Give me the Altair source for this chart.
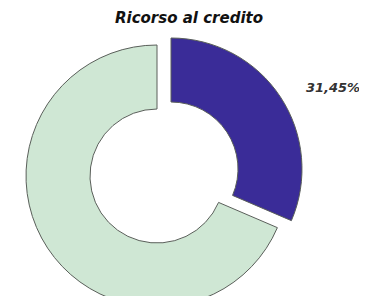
import altair as alt
import pandas as pd

categories = ["Ricorso al credito", "Altro"]
values = [31.45, 68.55]
colors = ["#3a2c98", "#cfe7d4"]
label_text = "31,45%"
title_text = "Ricorso al credito"

df = pd.DataFrame({"cat": categories, "val": values, "order": [0, 1]})

base = alt.Chart(df).transform_window(
    end="sum(val)", sort=[alt.SortField("order")]
).transform_calculate(start="datum.end - datum.val")

theta_scale = alt.Scale(domain=[0, 100], range=[0, 6.283185307])
color_scale = alt.Scale(domain=categories, range=colors)


def slice_layer(cat, cx, cy):
    return base.transform_filter(alt.datum.cat == cat).mark_arc(
        radius=131, radius2=67, stroke="#5a5f5a", strokeWidth=1
    ).encode(
        theta=alt.Theta("start:Q", scale=theta_scale),
        theta2="end:Q",
        color=alt.Color("cat:N", scale=color_scale, legend=None),
        x=alt.value(cx),
        y=alt.value(cy),
    )


green = slice_layer("Altro", 149, 168)
blue = slice_layer("Ricorso al credito", 163, 161)

title = alt.Chart(pd.DataFrame({"t": [title_text]})).mark_text(
    font="DejaVu Sans", fontSize=15, fontWeight="bold", fontStyle="italic",
    color="#111111", align="center", baseline="middle"
).encode(text="t:N", x=alt.value(181), y=alt.value(10))

label = alt.Chart(pd.DataFrame({"t": [label_text]})).mark_text(
    font="DejaVu Sans", fontSize=13, fontWeight="bold", fontStyle="italic",
    color="#333333", align="center", baseline="middle"
).encode(text="t:N", x=alt.value(325), y=alt.value(80))

chart = alt.layer(green, blue, title, label).properties(
    width=351, height=288, autosize=alt.AutoSizeParams(type="none"), padding=0
).configure_view(stroke=None)

chart.save("out.html", embed_options={"renderer": "svg", "actions": False})
